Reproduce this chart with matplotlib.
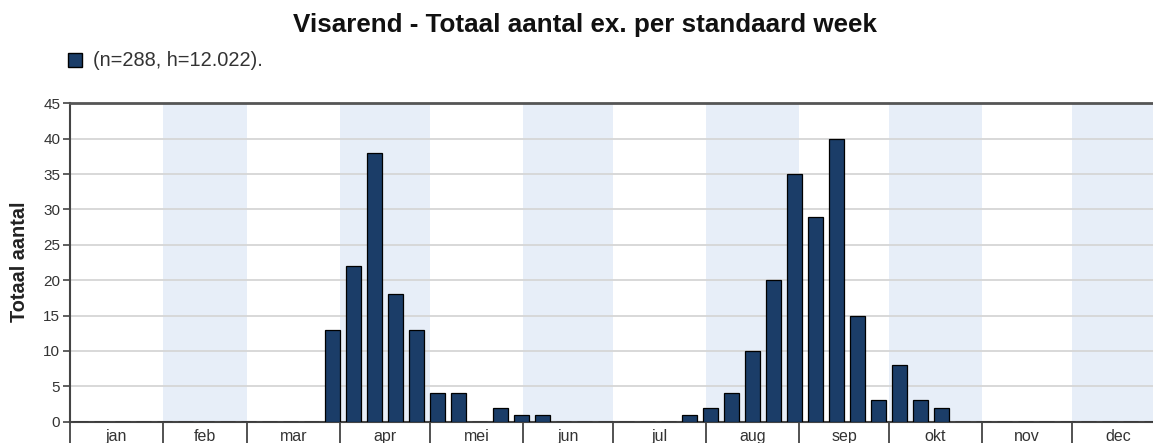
import matplotlib
matplotlib.use("Agg")
import matplotlib.pyplot as plt
import numpy as np
from matplotlib.patches import Patch

plt.rcParams['font.family'] = ['Liberation Sans', 'DejaVu Sans']

# standaard weken 1..52 met aantallen (0 = geen waarneming)
weeks = np.arange(1, 53)
counts = [0] * 52
obs_weeks = [13, 14, 15, 16, 17, 18, 19, 20, 21, 22, 23,
             30, 31, 32, 33, 34, 35, 36, 37, 38, 39, 40, 41, 42]
obs_counts = [13, 22, 38, 18, 13, 4, 4, 0, 2, 1, 1,
              1, 2, 4, 10, 20, 35, 29, 40, 15, 3, 8, 3, 2]
for w, c in zip(obs_weeks, obs_counts):
    counts[w - 1] = c

months = ["jan", "feb", "mar", "apr", "mei", "jun",
          "jul", "aug", "sep", "okt", "nov", "dec"]
month_days = [31, 28, 31, 30, 31, 30, 31, 31, 30, 31, 30, 31]

bar_color = "#1b3d68"
shade = "#e7eef8"
axis_col = "#444444"
text_col = "#333333"

fig = plt.figure(figsize=(11.53, 4.43), dpi=100)
ax = fig.add_axes([70 / 1153, 21.3 / 443, 1095 / 1153, 318.4 / 443])

edges = np.concatenate([[0], np.cumsum(month_days)]) / 7.0
for i in range(12):
    if i % 2 == 1:
        ax.axvspan(edges[i], edges[i + 1], color=shade, lw=0, zorder=0)

ax.bar(weeks - 0.5, counts, width=0.67, color=bar_color,
       edgecolor="black", linewidth=0.9, zorder=3)

ax.set_xlim(0, 365 / 7.0)
ax.set_ylim(0, 45)
ax.set_yticks(range(0, 46, 5))
ax.yaxis.grid(True, color="#d6d6d6", linewidth=1.3, zorder=1)
ax.set_axisbelow(True)

ax.set_xticks(edges[:-1])
ax.set_xticklabels([])
mids = (edges[:-1] + edges[1:]) / 2
ax.set_xticks(mids, minor=True)
ax.set_xticklabels(months, minor=True)
ax.tick_params(axis="x", which="major", length=20, width=1.3, color=axis_col)
ax.tick_params(axis="x", which="minor", length=0, pad=5, labelsize=11.5,
               labelcolor=text_col)
ax.tick_params(axis="y", length=5, width=1.2, color=axis_col, labelsize=11,
               labelcolor=text_col, pad=2)

for s in ["left", "bottom"]:
    ax.spines[s].set_color(axis_col)
    ax.spines[s].set_linewidth(1.5)
ax.spines["top"].set_color("#555555")
ax.spines["top"].set_linewidth(2)
ax.spines["right"].set_visible(False)

fig.text(0.507, 1 - 25 / 443, "Visarend - Totaal aantal ex. per standaard week",
         ha="center", va="center", fontsize=18.7, fontweight="bold", color="#111111")
fig.text(20 / 1153, 1 - 262 / 443, "Totaal aantal", rotation=90,
         ha="center", va="center", fontsize=14.3, fontweight="bold", color="#222222")

fig.legend(handles=[Patch(facecolor=bar_color, edgecolor="black", linewidth=1)],
           labels=["(n=288, h=12.022)."], loc="center left",
           bbox_to_anchor=(68 / 1153, 1 - 61 / 443), frameon=False,
           borderpad=0, borderaxespad=0,
           handlelength=0.7, handleheight=0.7, handletextpad=0.55,
           fontsize=14.4, labelcolor=text_col)

fig.savefig("out.png", dpi=100)
